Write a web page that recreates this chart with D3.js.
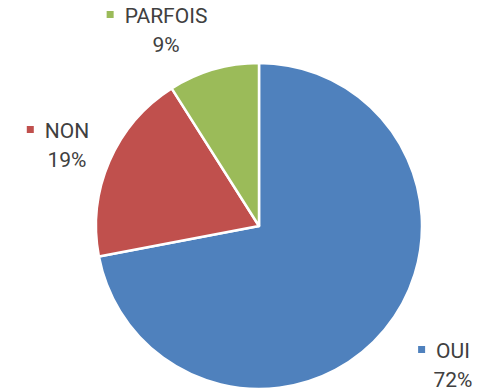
<!DOCTYPE html>
<html>
<head>
<meta charset="utf-8">
<script src="https://cdn.jsdelivr.net/npm/d3@7"></script>
<style>
  html, body { margin: 0; padding: 0; background: #ffffff; }
  svg { display: block; }
</style>
</head>
<body>
<svg id="chart" width="484" height="391"></svg>
<script>
// Answer categories and their shares (percent)
const categories = ["OUI", "NON", "PARFOIS"];
const values = [72, 19, 9];
const colors = ["#4F81BD", "#C0504D", "#9BBB59"];

// Label block centres (text centre x, first-line baseline y)
const labelPos = [
  { x: 453, y: 358 },
  { x: 67, y: 138 },
  { x: 166, y: 23 }
];

const width = 484, height = 391;
const cx = 259, cy = 226, radius = 163;

const svg = d3.select("#chart");
const g = svg.append("g").attr("transform", `translate(${cx},${cy})`);

const data = categories.map((c, i) => ({ name: c, value: values[i], color: colors[i] }));

const pie = d3.pie().sort(null).value(d => d.value);
const arc = d3.arc().innerRadius(0).outerRadius(radius);

g.selectAll("path.slice")
  .data(pie(data))
  .join("path")
  .attr("class", "slice")
  .attr("d", arc)
  .attr("fill", d => d.data.color)
  .attr("stroke", "#ffffff")
  .attr("stroke-width", 2.5)
  .attr("stroke-linejoin", "round");

// Data labels: legend key + category name, percentage on the second line
const fontFamily = "Roboto, 'Open Sans', sans-serif";
const labels = svg.selectAll("g.label")
  .data(data)
  .join("g")
  .attr("class", "label")
  .attr("transform", (d, i) => `translate(${labelPos[i].x},${labelPos[i].y})`);

labels.append("text")
  .attr("class", "name")
  .attr("text-anchor", "middle")
  .attr("font-family", fontFamily)
  .attr("font-size", 21)
  .attr("fill", "#404040")
  .text(d => d.name);

labels.append("text")
  .attr("text-anchor", "middle")
  .attr("y", 29)
  .attr("font-family", fontFamily)
  .attr("font-size", 21)
  .attr("fill", "#404040")
  .text(d => d3.format(".0f")(d.value) + "%");

labels.each(function (d) {
  const grp = d3.select(this);
  const w = grp.select("text.name").node().getComputedTextLength();
  grp.append("rect")
    .attr("x", -w / 2 - 18)
    .attr("y", -12)
    .attr("width", 7)
    .attr("height", 7)
    .attr("fill", d.color);
});
</script>
</body>
</html>
